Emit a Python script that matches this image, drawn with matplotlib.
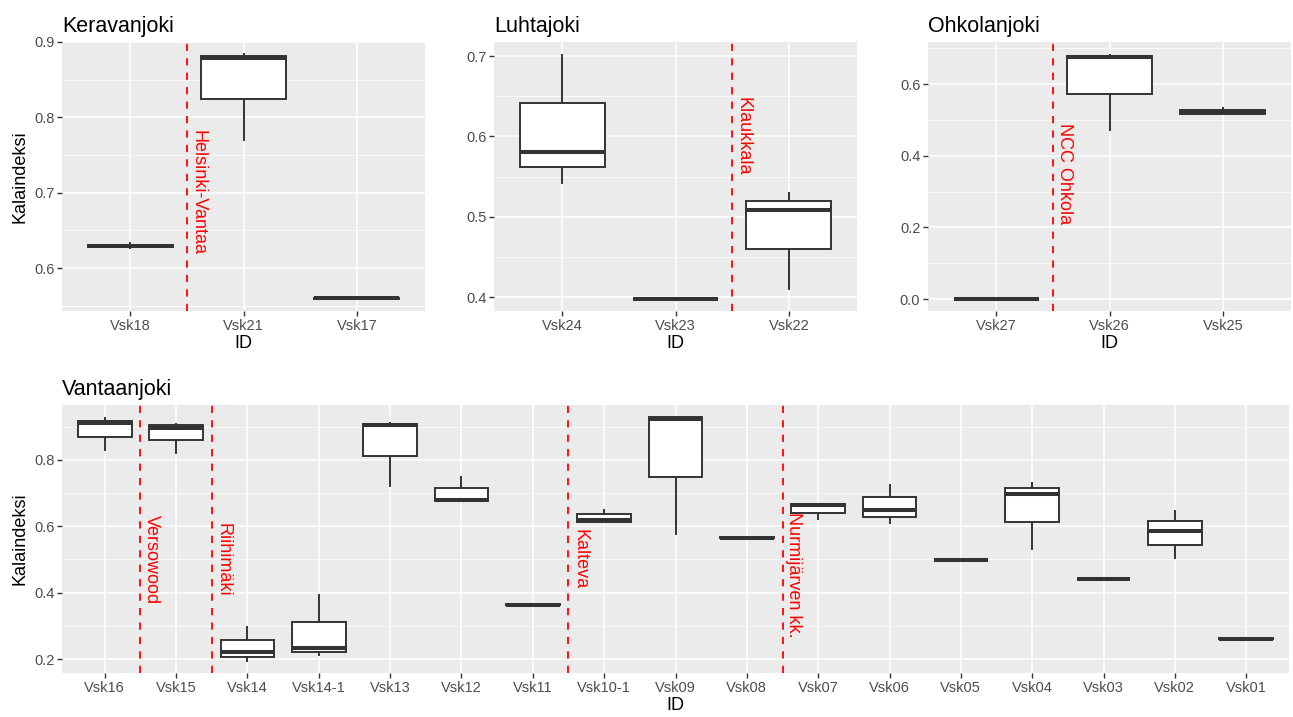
import matplotlib.pyplot as plt
from matplotlib.ticker import MultipleLocator

plt.rcParams['font.family'] = ['Liberation Sans', 'DejaVu Sans']

W, H = 1293, 717

# Keravanjoki
kerava_ids = ["Vsk18", "Vsk21", "Vsk17"]
kerava_lo = [0.627, 0.770, 0.559]
kerava_q1 = [0.628, 0.824, 0.559]
kerava_med = [0.629, 0.879, 0.560]
kerava_q3 = [0.631, 0.882, 0.560]
kerava_hi = [0.633, 0.884, 0.560]
kerava_plants = ["Helsinki-Vantaa"]
kerava_plant_x = [1.5]
kerava_plant_y = [0.70]

# Luhtajoki
luhta_ids = ["Vsk24", "Vsk23", "Vsk22"]
luhta_lo = [0.542, 0.397, 0.410]
luhta_q1 = [0.562, 0.397, 0.460]
luhta_med = [0.581, 0.398, 0.509]
luhta_q3 = [0.642, 0.398, 0.520]
luhta_hi = [0.702, 0.398, 0.530]
luhta_plants = ["Klaukkala"]
luhta_plant_x = [2.5]
luhta_plant_y = [0.60]

# Ohkolanjoki
ohkola_ids = ["Vsk27", "Vsk26", "Vsk25"]
ohkola_lo = [0.0, 0.473, 0.518]
ohkola_q1 = [0.0, 0.574, 0.518]
ohkola_med = [0.0, 0.675, 0.523]
ohkola_q3 = [0.0, 0.678, 0.528]
ohkola_hi = [0.0, 0.683, 0.534]
ohkola_plants = ["NCC Ohkola"]
ohkola_plant_x = [1.5]
ohkola_plant_y = [0.35]

# Vantaanjoki
vantaa_ids = ["Vsk16", "Vsk15", "Vsk14", "Vsk14-1", "Vsk13", "Vsk12", "Vsk11",
              "Vsk10-1", "Vsk09", "Vsk08", "Vsk07", "Vsk06", "Vsk05", "Vsk04",
              "Vsk03", "Vsk02", "Vsk01"]
vantaa_lo = [0.830, 0.820, 0.193, 0.213, 0.720, 0.675, 0.363, 0.614, 0.577,
             0.565, 0.622, 0.609, 0.497, 0.533, 0.440, 0.506, 0.260]
vantaa_q1 = [0.868, 0.859, 0.206, 0.220, 0.811, 0.675, 0.363, 0.614, 0.750,
             0.565, 0.641, 0.628, 0.497, 0.613, 0.440, 0.545, 0.260]
vantaa_med = [0.910, 0.897, 0.220, 0.232, 0.905, 0.679, 0.364, 0.620, 0.922,
              0.566, 0.664, 0.650, 0.498, 0.696, 0.441, 0.587, 0.261]
vantaa_q3 = [0.918, 0.904, 0.258, 0.312, 0.908, 0.715, 0.365, 0.636, 0.928,
             0.567, 0.668, 0.688, 0.499, 0.715, 0.442, 0.617, 0.262]
vantaa_hi = [0.925, 0.908, 0.296, 0.392, 0.912, 0.748, 0.365, 0.650, 0.928,
             0.567, 0.668, 0.725, 0.499, 0.730, 0.442, 0.646, 0.262]
vantaa_plants = ["Versowood", "Riihimäki", "Kalteva", "Nurmijärven kk."]
vantaa_plant_x = [1.5, 2.5, 7.5, 10.5]
vantaa_plant_y = [0.50, 0.50, 0.50, 0.455]

BOX = "#333333"
TICK = "#4D4D4D"


def panel(rect, title, ids, lo, q1, med, q3, hi, plants, px, py,
          ylim, major, ylabel=True):
    l, r, t, b = rect
    ax = fig.add_axes([l / W, 1 - b / H, (r - l) / W, (b - t) / H])
    stats = [dict(whislo=a, q1=c, med=m, q3=d, whishi=e)
             for a, c, m, d, e in zip(lo, q1, med, q3, hi)]
    pos = list(range(1, len(ids) + 1))
    ax.bxp(stats, positions=pos, widths=0.75, showfliers=False,
           showcaps=False, patch_artist=True,
           boxprops=dict(facecolor="white", edgecolor=BOX, linewidth=1.4),
           whiskerprops=dict(color=BOX, linewidth=1.4),
           medianprops=dict(color=BOX, linewidth=2.9, solid_capstyle="butt"),
           zorder=3)
    ax.set_facecolor("#EBEBEB")
    for s in ax.spines.values():
        s.set_visible(False)
    ax.set_xlim(0.4, len(ids) + 0.6)
    ax.set_ylim(*ylim)
    ax.yaxis.set_major_locator(MultipleLocator(major))
    ax.yaxis.set_minor_locator(MultipleLocator(major / 2))
    ax.grid(True, which="major", color="white", linewidth=1.1)
    ax.grid(True, which="minor", axis="y", color="white", linewidth=0.55)
    ax.set_axisbelow(True)
    ax.set_xticks(pos)
    ax.set_xticklabels(ids)
    ax.yaxis.set_major_formatter(plt.FuncFormatter(lambda v, _: f"{v:.1f}"))
    ax.tick_params(which="major", color="#333333", length=3.5, width=1,
                   labelsize=10.5, labelcolor=TICK, pad=2)
    ax.tick_params(which="minor", length=0)
    ax.set_xlabel("ID", fontsize=13, labelpad=2)
    if ylabel:
        ax.set_ylabel("Kalaindeksi", fontsize=13, labelpad=4)
    ax.set_title(title, loc="left", fontsize=15.5, pad=7)
    for name, x, y in zip(plants, px, py):
        ax.axvline(x, color="red", linestyle=(0, (4, 4)), linewidth=1.3, zorder=4)
        ax.annotate(name, xy=(x, y), xytext=(2, 0), textcoords="offset points",
                    rotation=270, ha="left", va="center", color="red",
                    fontsize=13, zorder=5)
    return ax


fig = plt.figure(figsize=(W / 100, H / 100), dpi=100)

panel((62, 425, 42, 311), "Keravanjoki", kerava_ids, kerava_lo, kerava_q1,
      kerava_med, kerava_q3, kerava_hi, kerava_plants, kerava_plant_x,
      kerava_plant_y, (0.543, 0.9), 0.1)
panel((494, 857, 42, 311), "Luhtajoki", luhta_ids, luhta_lo, luhta_q1,
      luhta_med, luhta_q3, luhta_hi, luhta_plants, luhta_plant_x,
      luhta_plant_y, (0.3826, 0.7176), 0.1, ylabel=False)
panel((928, 1291, 42, 311), "Ohkolanjoki", ohkola_ids, ohkola_lo, ohkola_q1,
      ohkola_med, ohkola_q3, ohkola_hi, ohkola_plants, ohkola_plant_x,
      ohkola_plant_y, (-0.0335, 0.718), 0.2, ylabel=False)
panel((62, 1289, 405, 673), "Vantaanjoki", vantaa_ids, vantaa_lo, vantaa_q1,
      vantaa_med, vantaa_q3, vantaa_hi, vantaa_plants, vantaa_plant_x,
      vantaa_plant_y, (0.158, 0.9655), 0.2)

fig.savefig("out.png", dpi=100)
